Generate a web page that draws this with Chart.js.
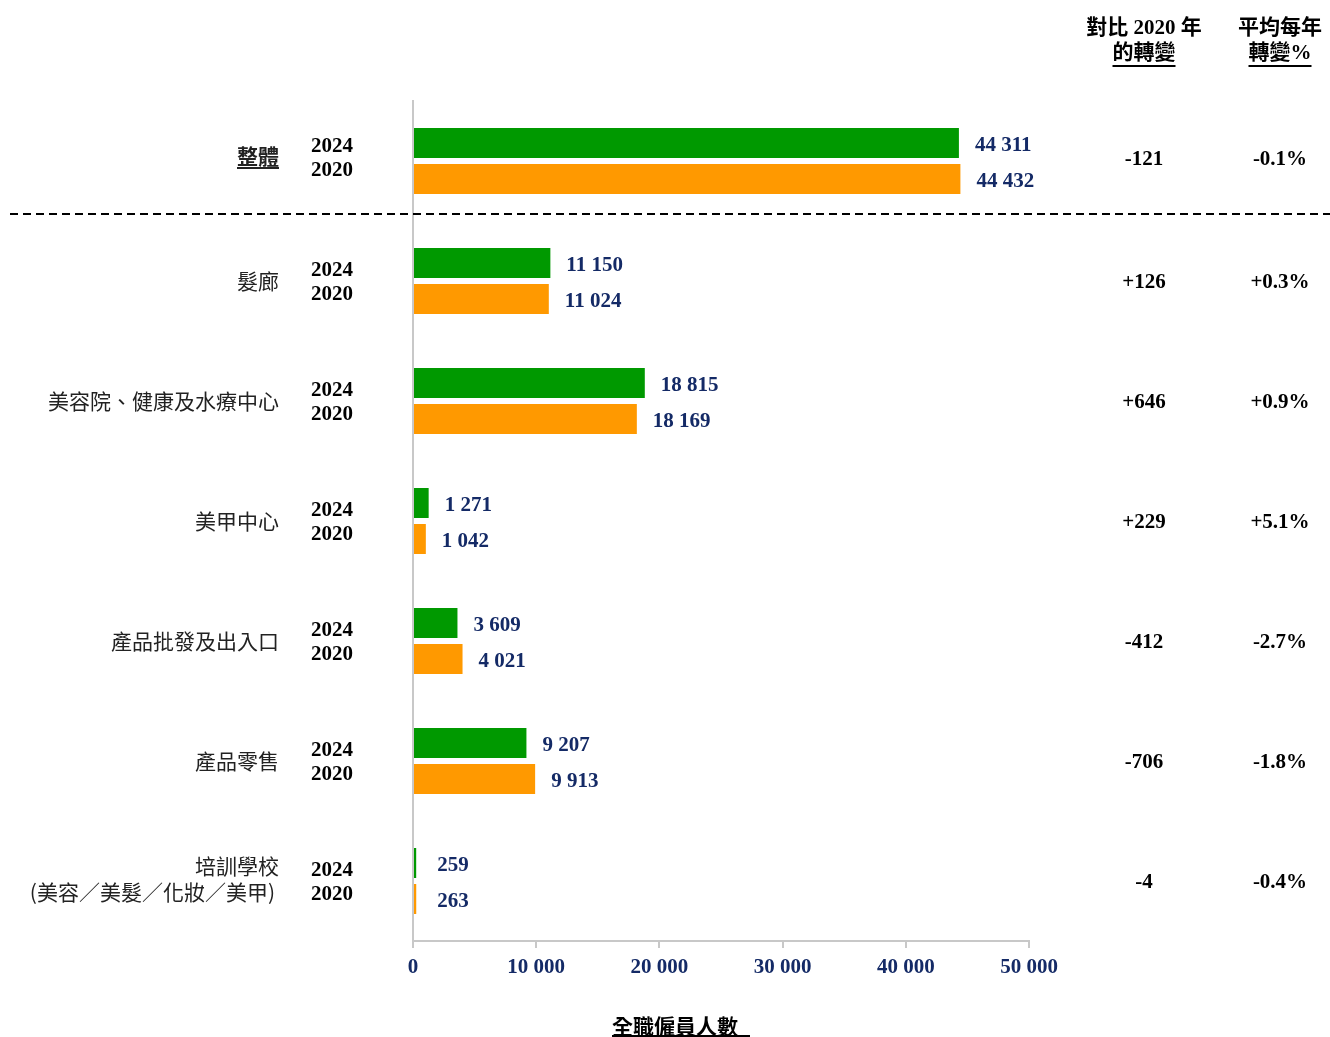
<!DOCTYPE html>
<html lang="zh-Hant">
<head>
  <meta charset="UTF-8">
  <title>全職僱員人數</title>
  <script src="https://cdn.jsdelivr.net/npm/chart.js"></script>
  <style>
    body {
      margin: 0;
      background: #ffffff;
    }
    #wrap {
      width: 1330px;
      height: 1037px;
    }
  </style>
</head>
<body>
  <div id="wrap">
    <canvas id="staffChart" width="1330" height="1037"></canvas>
  </div>

  <script>
    // 各行業組別
    const categories = ['整體', '髮廊', '美容院、健康及水療中心', '美甲中心', '產品批發及出入口', '產品零售', '培訓學校'];
    const categoryLines = [['整體'], ['髮廊'], ['美容院、健康及水療中心'], ['美甲中心'], ['產品批發及出入口'], ['產品零售'], ['培訓學校', '(美容／美髮／化妝／美甲)']];
    const staff2024 = [44311, 11150, 18815, 1271, 3609, 9207, 259];
    const staff2020 = [44432, 11024, 18169, 1042, 4021, 9913, 263];
    const changeVs2020 = ['-121', '+126', '+646', '+229', '-412', '-706', '-4'];
    const annualChange = ['-0.1%', '+0.3%', '+0.9%', '+5.1%', '-2.7%', '-1.8%', '-0.4%'];
    const xTicks = [0, 10000, 20000, 30000, 40000, 50000];

    const NAVY = '#142a66';
    const SERIF = "'Liberation Serif', 'Noto Sans CJK TC', serif";
    const CJK = "'Noto Sans CJK TC', 'Liberation Serif', sans-serif";

    function fmt(n) {
      return String(n).replace(/\B(?=(\d{3})+(?!\d))/g, ' ');
    }

    function underline(ctx, text, x, y, align) {
      const w = ctx.measureText(text).width;
      let x0 = x;
      if (align === 'center') x0 = x - w / 2;
      if (align === 'right') x0 = x - w;
      ctx.fillRect(x0, y, w, 2);
    }

    // 文字標籤、分隔線及右側欄位
    const annotate = {
      id: 'annotate',
      afterDatasetsDraw(chart) {
        const ctx = chart.ctx;
        const yScale = chart.scales.y;
        ctx.save();
        ctx.textBaseline = 'middle';

        // 數值標籤
        ctx.font = 'bold 21px ' + SERIF;
        ctx.fillStyle = NAVY;
        ctx.textAlign = 'left';
        chart.data.datasets.forEach((ds, di) => {
          const meta = chart.getDatasetMeta(di);
          meta.data.forEach((bar, i) => {
            const gap = ds.data[i] < 1000 ? 21 : 16;
            ctx.fillText(fmt(ds.data[i]), bar.x + gap, bar.y + 3);
          });
        });

        categories.forEach((c, i) => {
          const yc = yScale.getPixelForValue(i);
          const top = i === 0;

          // 類別名稱
          ctx.fillStyle = '#222';
          ctx.textAlign = 'right';
          const lines = categoryLines[i];
          if (top) {
            ctx.font = 'bold 21px ' + CJK;
            ctx.fillText(lines[0], 279, yc - 5);
            underline(ctx, lines[0], 279, yc + 6, 'right');
          } else {
            ctx.font = '21px ' + CJK;
            if (lines.length === 1) {
              ctx.fillText(lines[0], 279, yc);
            } else {
              ctx.fillText(lines[0], 279, yc - 15);
              ctx.fillText(lines[1], 275, yc + 11);
            }
          }

          // 年份
          ctx.fillStyle = '#000';
          ctx.textAlign = 'center';
          ctx.font = 'bold 21px ' + SERIF;
          ctx.fillText('2024', 332, top ? yc - 14 : yc - 10);
          ctx.fillText('2020', 332, top ? yc + 10 : yc + 14);

          // 變動欄位
          const yv = top ? yc - 1 : yc + 2;
          ctx.fillText(changeVs2020[i], 1144, yv);
          ctx.fillText(annualChange[i], 1280, yv);
        });

        // 整體與各組別之間的虛線
        ctx.strokeStyle = '#000';
        ctx.lineWidth = 2;
        ctx.setLineDash([8, 5]);
        ctx.beginPath();
        ctx.moveTo(10, 214);
        ctx.lineTo(1330, 214);
        ctx.stroke();
        ctx.setLineDash([]);

        // 欄位標題
        ctx.fillStyle = '#000';
        ctx.textAlign = 'center';
        ctx.font = 'bold 21px ' + SERIF;
        ctx.fillText('對比 2020 年', 1144, 29);
        ctx.fillText('的轉變', 1144, 54);
        underline(ctx, '的轉變', 1144, 65, 'center');
        ctx.fillText('平均每年', 1280, 29);
        ctx.fillText('轉變%', 1280, 54);
        underline(ctx, '轉變%', 1280, 65, 'center');

        // 軸標題
        ctx.font = 'bold 21px ' + CJK;
        ctx.fillText('全職僱員人數', 675, 1026);
        const tw = ctx.measureText('全職僱員人數').width;
        ctx.fillRect(675 - tw / 2, 1037 - 2, tw + 12, 2);

        ctx.restore();
      }
    };

    const chart = new Chart(document.getElementById('staffChart'), {
      type: 'bar',
      data: {
        labels: categories,
        datasets: [
          {
            label: '2024',
            data: staff2024,
            backgroundColor: '#009900',
            categoryPercentage: 0.6,
            barPercentage: 0.833
          },
          {
            label: '2020',
            data: staff2020,
            backgroundColor: '#ff9900',
            categoryPercentage: 0.6,
            barPercentage: 0.833
          }
        ]
      },
      options: {
        indexAxis: 'y',
        responsive: false,
        animation: false,
        layout: {
          padding: { left: 413, right: 301, top: 101, bottom: 0 }
        },
        plugins: {
          legend: { display: false },
          tooltip: { enabled: false }
        },
        scales: {
          x: {
            min: 0,
            max: 50000,
            afterBuildTicks(scale) {
              scale.ticks = xTicks.map(v => ({ value: v }));
            },
            afterFit(scale) {
              scale.height = 96;
            },
            grid: {
              drawOnChartArea: false,
              color: '#c8c8c8',
              lineWidth: 2,
              tickLength: 7
            },
            border: { display: true, color: '#c8c8c8', width: 2 },
            ticks: {
              color: NAVY,
              padding: 7,
              font: { family: SERIF, size: 21, weight: 'bold' },
              callback: v => fmt(v)
            }
          },
          y: {
            afterFit(scale) {
              scale.width = 0;
            },
            grid: { display: true, drawOnChartArea: false, drawTicks: false },
            border: { display: true, color: '#c8c8c8', width: 2 },
            ticks: { display: false }
          }
        }
      },
      plugins: [annotate]
    });
  </script>
</body>
</html>
